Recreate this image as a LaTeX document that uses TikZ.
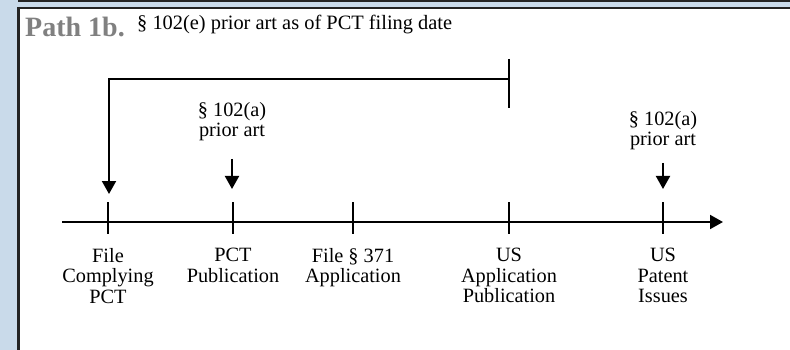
\documentclass[tikz,border=0pt]{standalone}
\usepackage{fontspec}
\setmainfont{Liberation Serif}
\usetikzlibrary{arrows.meta}
\definecolor{sideblue}{RGB}{201,218,234}
\definecolor{framedark}{RGB}{35,35,35}
\definecolor{titlegray}{RGB}{128,128,128}
\begin{document}
\begin{tikzpicture}[x=1pt,y=-1pt,
  line/.style={line width=2pt, black},
  tip/.style={-{Triangle[length=13pt,width=14pt]}},
  lbl/.style={font=\fontsize{20.3}{20.5}\selectfont, align=center, inner sep=0pt, anchor=north},
  tickmark/.style={line width=2pt, black}]
\useasboundingbox (0,0) rectangle (790,350);
% frame
\fill[sideblue] (0,0) rectangle (790,350);
\fill[white] (19,8) rectangle (790,350);
\draw[framedark, line width=2pt] (18,1) -- (790,1);
\draw[framedark, line width=2.5pt] (17,8) -- (790,8);
\draw[framedark, line width=2.7pt] (18.7,7) -- (18.7,350);
% title
\node[anchor=base west, inner sep=0pt, text=titlegray, font=\fontsize{28}{28}\selectfont\bfseries] (title) at (25,37) {Path 1b.};
\node[anchor=base west, inner sep=0pt, font=\fontsize{20.4}{20}\selectfont] (sub) at (137,29.5) {§ 102(e) prior art as of PCT filing date};
% timeline
\coordinate (axs) at (62,222);
\coordinate (axe) at (723,222);
\draw[line, tip] (axs) -- (axe);
\foreach \x in {108,233,353,509,663} \draw[tickmark] (\x,202) -- (\x,234);
% labels below
\node[lbl] (l1) at (108,248) {File\\Complying\\PCT};
\node[lbl] (l2) at (233,248) {PCT\\Publication};
\node[lbl] (l3) at (353,248) {File § 371\\Application};
\node[lbl] (l4) at (509,248) {US\\Application\\Publication};
\node[lbl] (l5) at (663,248) {US\\Patent\\Issues};
% 102(a) labels and arrows
\node[lbl] (p1) at (232,102) {§ 102(a)\\prior art};
\node[lbl] (p2) at (663,111) {§ 102(a)\\prior art};
\coordinate (p1s) at (232,159);
\coordinate (p1e) at (232,189);
\coordinate (p2s) at (663,163);
\coordinate (p2e) at (663,189);
\draw[line, tip] (p1s) -- (p1e);
\draw[line, tip] (p2s) -- (p2e);
% 102(e) bracket
\coordinate (bk) at (509,79);
\coordinate (be) at (109,194);
\draw[tickmark] (509,59) -- (509,108);
\draw[line, tip] (bk) -| (be);
\end{tikzpicture}
\end{document}
